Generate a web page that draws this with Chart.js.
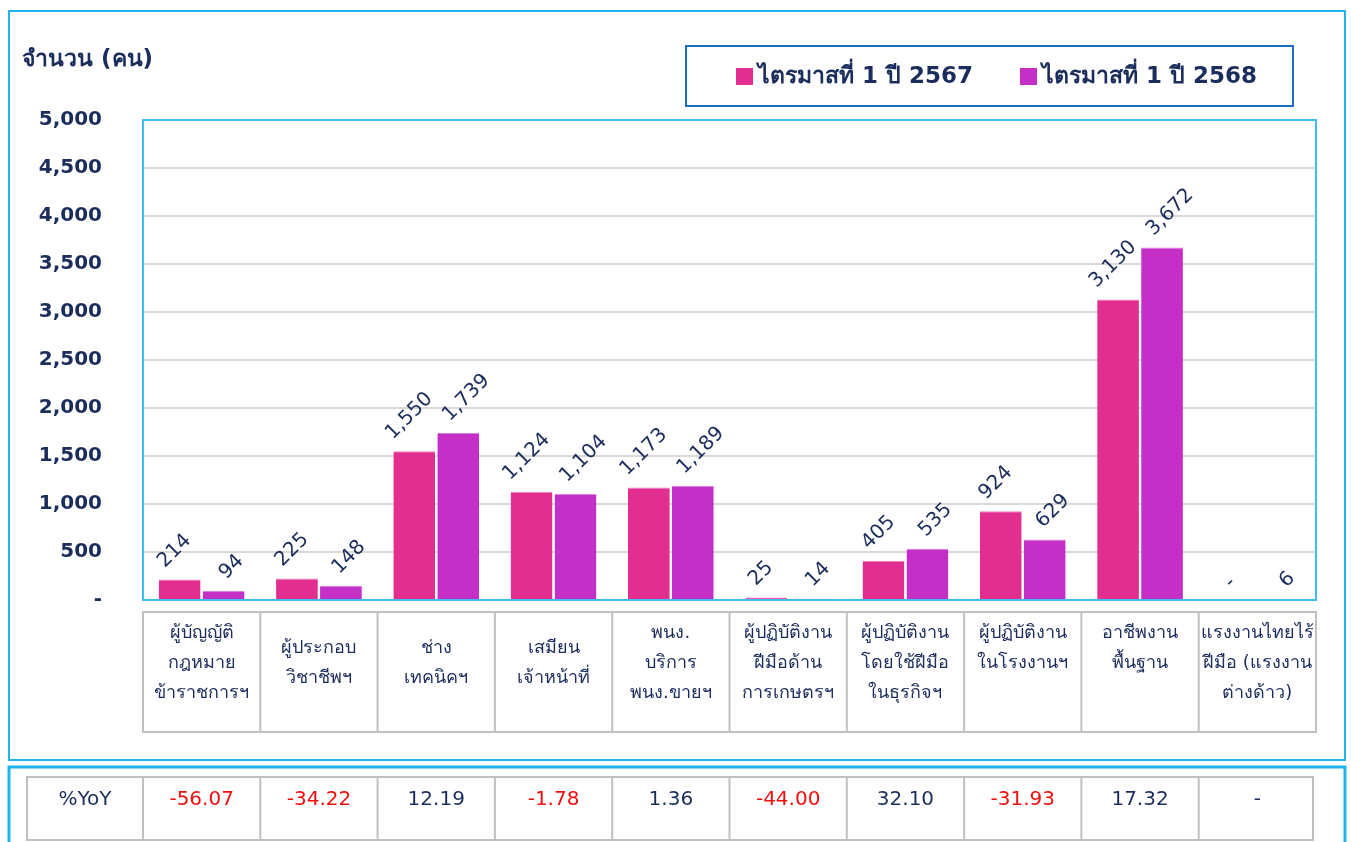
<!DOCTYPE html>
<html>
<head>
  <meta charset="UTF-8" />
  <title>จำนวน (คน)</title>
  <style>
    body { margin: 0; background: #fff; }
  </style>
</head>
<body>
  <canvas id="jobChart" width="1351" height="842"></canvas>
  <script src="https://cdn.jsdelivr.net/npm/chart.js"></script>
  <script>
    const categories = [
      ['ผู้บัญญัติ', 'กฎหมาย', 'ข้าราชการฯ'],
      ['ผู้ประกอบ', 'วิชาชีพฯ'],
      ['ช่าง', 'เทคนิคฯ'],
      ['เสมียน', 'เจ้าหน้าที่'],
      ['พนง.', 'บริการ', 'พนง.ขายฯ'],
      ['ผู้ปฏิบัติงาน', 'ฝีมือด้าน', 'การเกษตรฯ'],
      ['ผู้ปฏิบัติงาน', 'โดยใช้ฝีมือ', 'ในธุรกิจฯ'],
      ['ผู้ปฏิบัติงาน', 'ในโรงงานฯ'],
      ['อาชีพงาน', 'พื้นฐาน'],
      ['แรงงานไทยไร้', 'ฝีมือ (แรงงาน', 'ต่างด้าว)']
    ];
    const q1_2567 = [214, 225, 1550, 1124, 1173, 25, 405, 924, 3130, 0];
    const q1_2568 = [94, 148, 1739, 1104, 1189, 14, 535, 629, 3672, 6];
    const yoy = [-56.07, -34.22, 12.19, -1.78, 1.36, -44.00, 32.10, -31.93, 17.32, null];
    const yTicks = [0, 500, 1000, 1500, 2000, 2500, 3000, 3500, 4000, 4500, 5000];

    const navy = '#1b2d5c';
    const font = "Tahoma, 'DejaVu Sans', 'Noto Sans', sans-serif";
    // 2-line labels that sit in the middle of their cell
    const midLabels = [false, true, true, true, false, false, false, false, false, false];

    const fmt = v => v === 0 ? '-' : v.toLocaleString('en-US');

    const decor = {
      id: 'decor',
      beforeDraw(chart) {
        const ctx = chart.ctx;
        ctx.save();
        ctx.fillStyle = '#fff';
        ctx.fillRect(0, 0, chart.width, chart.height);
        ctx.strokeStyle = '#1fb4ee';
        ctx.lineWidth = 2;
        ctx.strokeRect(9, 11, 1336, 749);
        ctx.lineWidth = 3;
        ctx.strokeRect(9, 767, 1336, 100);
        ctx.restore();
      },
      afterDatasetsDraw(chart) {
        const ctx = chart.ctx;
        const area = chart.chartArea;
        ctx.save();
        // plot box
        ctx.strokeStyle = '#3cbdec';
        ctx.lineWidth = 2;
        ctx.strokeRect(area.left, area.top, area.right - area.left, area.bottom - area.top);

        // value labels, rotated
        ctx.fillStyle = navy;
        ctx.font = '20px ' + font;
        ctx.textAlign = 'center';
        ctx.textBaseline = 'middle';
        chart.data.datasets.forEach((ds, di) => {
          chart.getDatasetMeta(di).data.forEach((bar, i) => {
            const txt = fmt(ds.data[i]);
            const w = ctx.measureText(txt).width;
            ctx.save();
            ctx.translate(bar.x + (di === 0 ? -5 : 8), bar.y - 0.707 * w / 2 - 15);
            ctx.rotate(-Math.PI / 4);
            ctx.fillText(txt, 0, 0);
            ctx.restore();
          });
        });

        // title
        ctx.textAlign = 'left';
        ctx.font = 'bold 23px ' + font;
        ctx.fillText('จำนวน (คน)', 22, 60);

        // legend
        ctx.strokeStyle = '#1a6fc0';
        ctx.lineWidth = 2;
        ctx.strokeRect(686, 46, 607, 60);
        ctx.font = 'bold 23px ' + font;
        let lx = 736;
        chart.data.datasets.forEach(ds => {
          ctx.fillStyle = ds.backgroundColor;
          ctx.fillRect(lx, 68, 17, 17);
          ctx.fillStyle = navy;
          ctx.fillText(ds.label, lx + 22, 77);
          lx += 284;
        });

        // category table
        const xs = chart.scales.x;
        const half = (xs.getPixelForValue(1) - xs.getPixelForValue(0)) / 2;
        ctx.strokeStyle = '#c0c0c0';
        ctx.lineWidth = 2;
        const tTop = 612, tBot = 732;
        ctx.strokeRect(area.left, tTop, area.right - area.left, tBot - tTop);
        ctx.font = '18px ' + font;
        ctx.textAlign = 'center';
        categories.forEach((lines, i) => {
          const cx = xs.getPixelForValue(i);
          if (i > 0) {
            ctx.beginPath();
            ctx.moveTo(cx - half, tTop);
            ctx.lineTo(cx - half, tBot);
            ctx.stroke();
          }
          const y0 = midLabels[i] ? 648 : 633;
          lines.forEach((ln, k) => ctx.fillText(ln, cx, y0 + k * 30));
        });

        // %YoY table
        const rTop = 777, rBot = 840;
        ctx.strokeRect(27, rTop, area.right - 3 - 27, rBot - rTop);
        ctx.font = '20px ' + font;
        ctx.fillStyle = navy;
        ctx.fillText('%YoY', 85, 800);
        yoy.forEach((v, i) => {
          const cx = xs.getPixelForValue(i);
          ctx.beginPath();
          ctx.moveTo(cx - half, rTop);
          ctx.lineTo(cx - half, rBot);
          ctx.stroke();
          ctx.fillStyle = v !== null && v < 0 ? '#f01010' : navy;
          ctx.fillText(v === null ? '-' : v.toFixed(2), cx, 800);
        });
        ctx.restore();
      }
    };

    new Chart(document.getElementById('jobChart'), {
      type: 'bar',
      data: {
        labels: categories,
        datasets: [
          {
            label: 'ไตรมาสที่ 1 ปี 2567',
            data: q1_2567,
            backgroundColor: '#e22e8e',
            borderColor: '#f07fbd',
            borderWidth: { top: 1 },
            barPercentage: 0.95,
            categoryPercentage: 0.75
          },
          {
            label: 'ไตรมาสที่ 1 ปี 2568',
            data: q1_2568,
            backgroundColor: '#c42fc8',
            borderColor: '#dc7fe0',
            borderWidth: { top: 1 },
            barPercentage: 0.95,
            categoryPercentage: 0.75
          }
        ]
      },
      options: {
        responsive: false,
        animation: false,
        layout: { padding: { left: 0, right: 35, top: 120, bottom: 242 } },
        plugins: {
          legend: { display: false },
          tooltip: { enabled: false }
        },
        scales: {
          x: { display: false },
          y: {
            min: 0,
            max: 5000,
            afterFit: s => { s.width = 143; },
            afterBuildTicks: s => { s.ticks = yTicks.map(v => ({ value: v })); },
            border: { display: false },
            grid: { color: '#d9d9d9', lineWidth: 2, drawTicks: false },
            ticks: {
              padding: 41,
              color: navy,
              font: { family: font, size: 20, weight: 'bold' },
              callback: v => fmt(v)
            }
          }
        }
      },
      plugins: [decor]
    });
  </script>
</body>
</html>
